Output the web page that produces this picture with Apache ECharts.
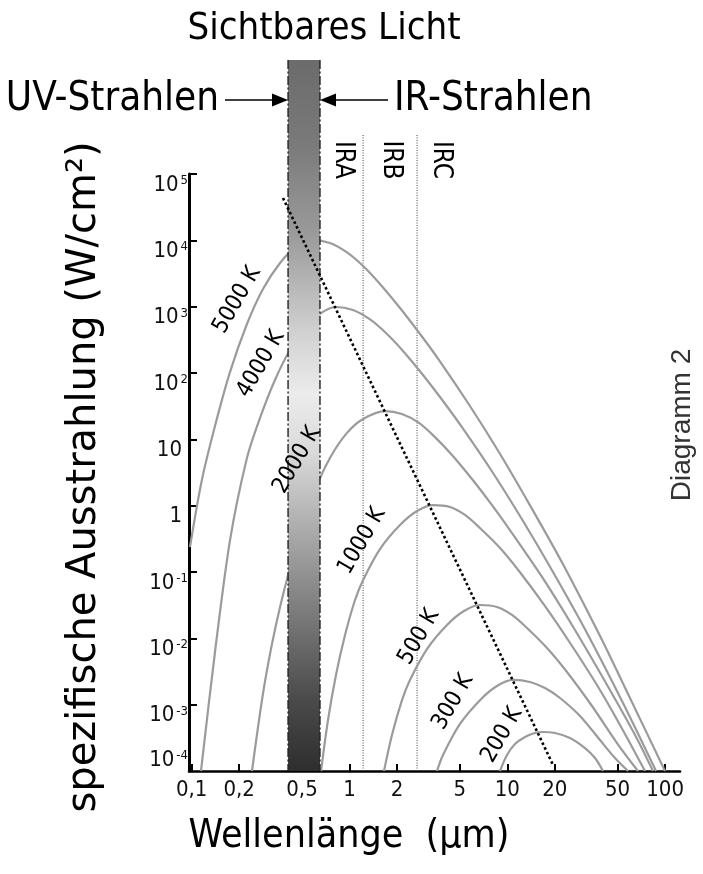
<!DOCTYPE html>
<html><head><meta charset="utf-8">
<script src="https://cdn.jsdelivr.net/npm/echarts@6/dist/echarts.min.js"></script>
<style>html,body{margin:0;padding:0;background:#fff}#c{width:703px;height:874px}</style>
</head><body><div id="c"></div>
<script>
// ---- axis ticks ----
const xTicks = [0.1, 0.2, 0.5, 1, 2, 5, 10, 20, 50, 100];
const xTickLabels = ['0,1', '0,2', '0,5', '1', '2', '5', '10', '20', '50', '100'];
const yTicks = [1e-4, 1e-3, 1e-2, 1e-1, 1, 10, 1e2, 1e3, 1e4, 1e5];
const yTickLabels = ['10^-4', '10^-3', '10^-2', '10^-1', '1', '10', '10^2', '10^3', '10^4', '10^5'];

// ---- curves: wavelength (µm) / specific emission (W/cm²) ----
const curveNames = ['5000 K', '4000 K', '2000 K', '1000 K', '500 K', '300 K', '200 K'];
const wl5000 = [0.0975,0.116,0.141,0.175,0.224,0.283,0.363,0.451,0.587,0.752,0.964,1.22,1.56,2.09,2.8,3.75,5.8,9.0,13.9,22.5,38.7,59.9,99.9];
const m5000  = [0.238,2.44,16.4,104,548,1849,4560,7670,10100,9130,6580,4105,2198,955,387,149,31.8,6.01,1.02,0.132,0.0108,0.00126,0.0001];
const wl4000 = [0.1145,0.141,0.175,0.224,0.271,0.337,0.42,0.522,0.65,0.821,1.052,1.349,1.703,2.183,2.923,3.913,5.24,8.12,12.58,19.48,31.5,54.1,87.6];
const m4000  = [0.0001,0.00667,0.304,5.24,21.0,78.5,222,445,776,989,891,643,401,215,93.3,37.8,14.5,3.11,0.587,0.1,0.0129,0.00106,0.0001];
const wl2000 = [0.241,0.291,0.363,0.486,0.6045,0.752,0.964,1.22,1.68,2.151,2.757,3.482,4.462,5.974,8.0,10.71,16.6,25.7,39.8,64.5,83.8];
const m2000  = [0.0001,0.0022,0.0297,0.387,1.72,5.24,12.5,20.3,26.7,24.1,17.7,10.8,5.81,2.52,1.02,0.387,0.0842,0.0159,0.0027,0.000349,0.0001];
const wl1000 = [0.66,0.731,0.821,0.937,1.084,1.22,1.56,2.09,2.68,3.38,4.34,5.39,6.71,9.0,12.0,17.3,25.0,37.0,51.8,74.6];
const m1000  = [0.0001,0.000588,0.0028,0.0112,0.0378,0.0759,0.222,0.512,0.832,1.02,0.955,0.724,0.461,0.23,0.1,0.0308,0.00851,0.00198,0.000495,0.0001];
const wl500  = [1.654,1.859,2.151,2.417,3.098,4.149,5.316,6.714,8.604,10.71,13.33,17.85,23.89,34.42,49.57,67.34];
const m500   = [0.0001,0.000349,0.00117,0.00236,0.0069,0.0159,0.0258,0.0318,0.0297,0.0225,0.0143,0.00715,0.00311,0.000955,0.000264,0.0001];
const wl300  = [3.585,3.913,5.015,6.714,8.604,10.87,13.93,17.34,21.58,28.89,38.68,48.14,58.21];
const m300   = [0.0001,0.000174,0.000512,0.00117,0.00191,0.00236,0.0022,0.00178,0.00126,0.000675,0.000293,0.000157,0.0001];
const wl200  = [8.99,9.956,11.19,12.95,14.98,16.84,20.06,24.96,31.08,35.97,40.41];
const m200   = [0.0001,0.000174,0.000255,0.000326,0.000374,0.000387,0.000374,0.000315,0.000222,0.000157,0.0001];

// curve label anchors (data units)
const labelWl = [0.194, 0.275, 0.465, 1.2, 2.76, 4.53, 9.26];
const labelM  = [1260, 137, 4.88, 0.294, 0.0105, 0.0011, 0.000349];

// visible light band, IR region bounds, Wien line
const visibleBand = [0.408, 0.65];
const irBounds = [1.22, 2.68];
const irNames = ['IRA', 'IRB', 'IRC'];
const wienWl = [0.379, 19.5];
const wienM  = [43500, 0.000123];

const COND = '"DejaVu Sans Condensed", "DejaVu Sans", sans-serif';
const zip = (a, b) => a.map((v, i) => [v, b[i]]);
const curves = [[wl5000,m5000],[wl4000,m4000],[wl2000,m2000],[wl1000,m1000],[wl500,m500],[wl300,m300],[wl200,m200]];

function yFmt(v) {
  const i = yTicks.findIndex(t => Math.abs(Math.log10(t) - Math.log10(v)) < 1e-6);
  if (i < 0) return '';
  const parts = yTickLabels[i].split('^');
  return parts.length > 1 ? '{b|' + parts[0] + '}{s|' + parts[1] + '}' : '{b|' + parts[0] + '}{sp|}';
}
function xFmt(v) {
  const i = xTicks.findIndex(t => Math.abs(Math.log10(t) - Math.log10(v)) < 1e-6);
  return i < 0 ? '' : xTickLabels[i];
}
const yRich = {
  b: { fontSize: 22, lineHeight: 22, fontFamily: COND, color: '#111' },
  s: { fontSize: 13, lineHeight: 13, fontFamily: COND, color: '#111', verticalAlign: 'top', padding: [0, 0, 0, 2] },
  sp: { width: 6 }
};

const chart = echarts.init(document.getElementById('c'));
const series = [];
curves.forEach((c, i) => series.push({
  type: 'line', name: curveNames[i], data: zip(c[0], c[1]), showSymbol: false, smooth: 0.3,
  lineStyle: { color: '#9b9b9b', width: 2.2 }, z: 2, silent: true
}));
series.push({
  type: 'custom', z: 3, clip: false, silent: true,
  data: [[visibleBand[0], visibleBand[1]]],
  renderItem: (params, api) => {
    const x0 = api.coord([api.value(0), 1])[0];
    const x1 = api.coord([api.value(1), 1])[0];
    const yb = api.coord([1, yTicks[0]])[1];
    const yt = 60;
    const dash = { stroke: '#222', lineWidth: 1.4, lineDash: [9, 2.5, 2, 2.5] };
    return { type: 'group', children: [
      { type: 'rect', shape: { x: x0, y: yt, width: x1 - x0, height: yb - yt },
        style: { fill: new echarts.graphic.LinearGradient(0, 0, 0, 1, [
          { offset: 0, color: '#6b6b6b' }, { offset: 0.12, color: '#7a7a7a' }, { offset: 0.25, color: '#9c9c9c' },
          { offset: 0.38, color: '#d0d0d0' }, { offset: 0.47, color: '#ececec' }, { offset: 0.55, color: '#dadada' },
          { offset: 0.65, color: '#b0b0b0' }, { offset: 0.78, color: '#7a7a7a' }, { offset: 0.9, color: '#4a4a4a' },
          { offset: 1, color: '#2e2e2e' }]) } },
      { type: 'line', shape: { x1: x0, y1: yt, x2: x0, y2: yb }, style: dash },
      { type: 'line', shape: { x1: x1, y1: yt, x2: x1, y2: yb }, style: dash }
    ] };
  }
});
series.push({
  type: 'custom', z: 2, clip: false, silent: true,
  data: irBounds.map(v => [v, 1]),
  renderItem: (params, api) => {
    const x = api.coord([api.value(0), 1])[0];
    const yb = api.coord([1, yTicks[0]])[1];
    return { type: 'line', shape: { x1: x, y1: 135, x2: x, y2: yb }, style: { stroke: '#444', lineWidth: 1, lineDash: [1, 1.5] } };
  }
});
series.push({
  type: 'line', data: zip(wienWl, wienM), showSymbol: false, clip: false, z: 4, silent: true,
  lineStyle: { color: '#000', width: 2.6, type: [2.6, 2.6] }
});
series.push({
  type: 'custom', z: 5, clip: false, silent: true,
  data: labelWl.map((w, i) => [w, labelM[i], i]),
  renderItem: (params, api) => {
    const p = api.coord([api.value(0), api.value(1)]);
    return { type: 'text', x: p[0], y: p[1], rotation: Math.PI / 3,
      style: { text: curveNames[api.value(2)], fontSize: 23, fontFamily: COND, fill: '#000',
        align: 'center', verticalAlign: 'middle', textAlign: 'center', textVerticalAlign: 'middle' } };
  }
});

const txt = (x, y, text, size, opts) => Object.assign({
  type: 'text', x: x, y: y, z: 10, silent: true,
  style: Object.assign({ text: text, fontSize: size, fontFamily: COND, fill: '#000',
    align: 'center', verticalAlign: 'middle', textAlign: 'center', textVerticalAlign: 'middle' }, (opts && opts.style) || {})
}, opts && opts.rotation !== undefined ? { rotation: opts.rotation } : {});

const graphic = [
  txt(324, 29, 'Sichtbares Licht', 38),
  txt(219, 100, 'UV-Strahlen', 40, { style: { align: 'right', textAlign: 'right' } }),
  txt(394, 100, 'IR-Strahlen', 40, { style: { align: 'left', textAlign: 'left' } }),
  { type: 'line', shape: { x1: 225, y1: 100, x2: 276, y2: 100 }, style: { stroke: '#000', lineWidth: 1.5 }, z: 10 },
  { type: 'polygon', shape: { points: [[272, 93.5], [288, 100], [272, 106.5]] }, style: { fill: '#000' }, z: 10 },
  { type: 'line', shape: { x1: 333, y1: 100, x2: 388, y2: 100 }, style: { stroke: '#000', lineWidth: 1.5 }, z: 10 },
  { type: 'polygon', shape: { points: [[336, 93.5], [320, 100], [336, 106.5]] }, style: { fill: '#000' }, z: 10 },
  txt(343, 160, irNames[0], 26, { rotation: -Math.PI / 2 }),
  txt(391, 160, irNames[1], 26, { rotation: -Math.PI / 2 }),
  txt(441, 160, irNames[2], 26, { rotation: -Math.PI / 2 }),
  txt(85, 477, 'spezifische Ausstrahlung (W/cm²)', 40, { rotation: Math.PI / 2, style: { fontFamily: '"DejaVu Sans", sans-serif' } }),
  txt(349, 837, 'Wellenlänge  (μm)', 39),
  txt(682, 425, 'Diagramm 2', 28, { rotation: Math.PI / 2, style: { fontFamily: '"Liberation Sans", Arial, sans-serif', fill: '#333' } })
];

chart.setOption({
  animation: false,
  backgroundColor: '#fff',
  grid: { left: 189, top: 174, width: 491, height: 597, containLabel: false },
  xAxis: {
    type: 'log', logBase: 10, min: 0.09614, max: 124.3,
    axisLine: { show: true, lineStyle: { color: '#000', width: 2.5 } },
    axisTick: { show: true, inside: true, length: 7, lineStyle: { color: '#000', width: 2 }, customValues: xTicks },
    axisLabel: { customValues: xTicks, formatter: xFmt, margin: 8, fontSize: 22, fontFamily: COND, color: '#111' },
    splitLine: { show: false }, minorTick: { show: false }
  },
  yAxis: [{
    type: 'log', logBase: 10, min: 1e-4, max: 1e5, splitNumber: 9, interval: 1,
    axisLine: { show: true, lineStyle: { color: '#000', width: 3 } },
    axisTick: { show: true, inside: true, length: 8, lineStyle: { color: '#000', width: 2 } },
    axisLabel: { showMinLabel: false, margin: 1, verticalAlign: 'top', formatter: yFmt, rich: yRich },
    splitLine: { show: false }
  }, {
    type: 'log', logBase: 10, min: 1e-4, max: 1e5, splitNumber: 9, interval: 1, position: 'left',
    axisLine: { show: false }, axisTick: { show: false }, splitLine: { show: false },
    axisLabel: { showMaxLabel: false, margin: 1, verticalAlign: 'bottom', rich: yRich,
      formatter: v => Math.abs(Math.log10(v) - Math.log10(yTicks[0])) < 1e-6 ? yFmt(v) : '' }
  }],
  series: series,
  graphic: graphic
});
</script></body></html>
